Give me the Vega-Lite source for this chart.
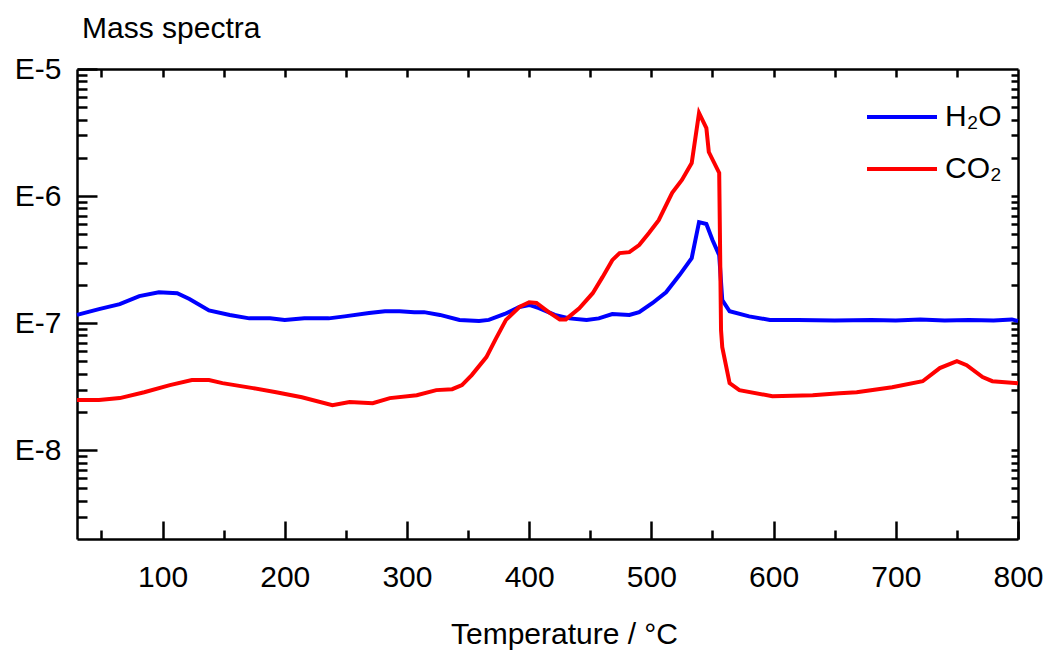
{
  "$schema": "https://vega.github.io/schema/vega-lite/v6.json",
  "width": 941,
  "height": 470,
  "autosize": "none",
  "padding": {"left": 77, "top": 69, "right": 30, "bottom": 112},
  "background": "white",
  "title": {"text": "Mass spectra", "anchor": "start", "frame": "group", "fontSize": 30, "fontWeight": "normal", "font": "Liberation Sans", "color": "black", "offset": 10, "dx": 5},
  "config": {"view": {"stroke": null}, "font": "Liberation Sans", "axis": {"grid": false, "domainColor": "black", "tickColor": "black", "labelColor": "black", "titleColor": "black"}},
  "data": {"values": [
    {"s": "H₂O", "T": 30, "v": 1.16e-7},
    {"s": "H₂O", "T": 48, "v": 1.29e-7},
    {"s": "H₂O", "T": 65, "v": 1.41e-7},
    {"s": "H₂O", "T": 81, "v": 1.63e-7},
    {"s": "H₂O", "T": 97, "v": 1.75e-7},
    {"s": "H₂O", "T": 112, "v": 1.72e-7},
    {"s": "H₂O", "T": 122, "v": 1.55e-7},
    {"s": "H₂O", "T": 138, "v": 1.26e-7},
    {"s": "H₂O", "T": 155, "v": 1.16e-7},
    {"s": "H₂O", "T": 171, "v": 1.09e-7},
    {"s": "H₂O", "T": 188, "v": 1.09e-7},
    {"s": "H₂O", "T": 200, "v": 1.06e-7},
    {"s": "H₂O", "T": 216, "v": 1.09e-7},
    {"s": "H₂O", "T": 236, "v": 1.09e-7},
    {"s": "H₂O", "T": 249, "v": 1.13e-7},
    {"s": "H₂O", "T": 269, "v": 1.20e-7},
    {"s": "H₂O", "T": 282, "v": 1.24e-7},
    {"s": "H₂O", "T": 294, "v": 1.24e-7},
    {"s": "H₂O", "T": 306, "v": 1.22e-7},
    {"s": "H₂O", "T": 314, "v": 1.22e-7},
    {"s": "H₂O", "T": 327, "v": 1.16e-7},
    {"s": "H₂O", "T": 343, "v": 1.06e-7},
    {"s": "H₂O", "T": 359, "v": 1.04e-7},
    {"s": "H₂O", "T": 367, "v": 1.06e-7},
    {"s": "H₂O", "T": 380, "v": 1.18e-7},
    {"s": "H₂O", "T": 392, "v": 1.34e-7},
    {"s": "H₂O", "T": 400, "v": 1.39e-7},
    {"s": "H₂O", "T": 408, "v": 1.31e-7},
    {"s": "H₂O", "T": 421, "v": 1.16e-7},
    {"s": "H₂O", "T": 433, "v": 1.09e-7},
    {"s": "H₂O", "T": 447, "v": 1.06e-7},
    {"s": "H₂O", "T": 457, "v": 1.09e-7},
    {"s": "H₂O", "T": 468, "v": 1.18e-7},
    {"s": "H₂O", "T": 482, "v": 1.16e-7},
    {"s": "H₂O", "T": 490, "v": 1.22e-7},
    {"s": "H₂O", "T": 501, "v": 1.44e-7},
    {"s": "H₂O", "T": 512, "v": 1.75e-7},
    {"s": "H₂O", "T": 523, "v": 2.39e-7},
    {"s": "H₂O", "T": 533, "v": 3.25e-7},
    {"s": "H₂O", "T": 539, "v": 6.24e-7},
    {"s": "H₂O", "T": 545, "v": 6.03e-7},
    {"s": "H₂O", "T": 550, "v": 4.51e-7},
    {"s": "H₂O", "T": 555.5, "v": 3.43e-7},
    {"s": "H₂O", "T": 558, "v": 1.52e-7},
    {"s": "H₂O", "T": 564, "v": 1.24e-7},
    {"s": "H₂O", "T": 580, "v": 1.13e-7},
    {"s": "H₂O", "T": 597, "v": 1.06e-7},
    {"s": "H₂O", "T": 620, "v": 1.06e-7},
    {"s": "H₂O", "T": 650, "v": 1.05e-7},
    {"s": "H₂O", "T": 680, "v": 1.06e-7},
    {"s": "H₂O", "T": 700, "v": 1.05e-7},
    {"s": "H₂O", "T": 720, "v": 1.07e-7},
    {"s": "H₂O", "T": 740, "v": 1.05e-7},
    {"s": "H₂O", "T": 760, "v": 1.06e-7},
    {"s": "H₂O", "T": 780, "v": 1.05e-7},
    {"s": "H₂O", "T": 795, "v": 1.07e-7},
    {"s": "H₂O", "T": 800, "v": 1.04e-7},
    {"s": "CO₂", "T": 30, "v": 2.48e-8},
    {"s": "CO₂", "T": 48, "v": 2.48e-8},
    {"s": "CO₂", "T": 65, "v": 2.57e-8},
    {"s": "CO₂", "T": 85, "v": 2.86e-8},
    {"s": "CO₂", "T": 106, "v": 3.25e-8},
    {"s": "CO₂", "T": 124, "v": 3.56e-8},
    {"s": "CO₂", "T": 138, "v": 3.56e-8},
    {"s": "CO₂", "T": 149, "v": 3.37e-8},
    {"s": "CO₂", "T": 174, "v": 3.08e-8},
    {"s": "CO₂", "T": 193, "v": 2.86e-8},
    {"s": "CO₂", "T": 214, "v": 2.61e-8},
    {"s": "CO₂", "T": 239, "v": 2.26e-8},
    {"s": "CO₂", "T": 253, "v": 2.39e-8},
    {"s": "CO₂", "T": 272, "v": 2.34e-8},
    {"s": "CO₂", "T": 286, "v": 2.57e-8},
    {"s": "CO₂", "T": 308, "v": 2.71e-8},
    {"s": "CO₂", "T": 324, "v": 2.97e-8},
    {"s": "CO₂", "T": 337, "v": 3.02e-8},
    {"s": "CO₂", "T": 345, "v": 3.25e-8},
    {"s": "CO₂", "T": 353, "v": 3.90e-8},
    {"s": "CO₂", "T": 365, "v": 5.40e-8},
    {"s": "CO₂", "T": 373, "v": 7.62e-8},
    {"s": "CO₂", "T": 381, "v": 1.06e-7},
    {"s": "CO₂", "T": 392, "v": 1.34e-7},
    {"s": "CO₂", "T": 400, "v": 1.46e-7},
    {"s": "CO₂", "T": 406, "v": 1.44e-7},
    {"s": "CO₂", "T": 416, "v": 1.22e-7},
    {"s": "CO₂", "T": 425, "v": 1.07e-7},
    {"s": "CO₂", "T": 430, "v": 1.07e-7},
    {"s": "CO₂", "T": 441, "v": 1.31e-7},
    {"s": "CO₂", "T": 452, "v": 1.72e-7},
    {"s": "CO₂", "T": 460, "v": 2.30e-7},
    {"s": "CO₂", "T": 468, "v": 3.13e-7},
    {"s": "CO₂", "T": 474, "v": 3.56e-7},
    {"s": "CO₂", "T": 482, "v": 3.62e-7},
    {"s": "CO₂", "T": 490, "v": 4.11e-7},
    {"s": "CO₂", "T": 498, "v": 5.12e-7},
    {"s": "CO₂", "T": 506, "v": 6.47e-7},
    {"s": "CO₂", "T": 517, "v": 1.06e-6},
    {"s": "CO₂", "T": 525, "v": 1.34e-6},
    {"s": "CO₂", "T": 533, "v": 1.82e-6},
    {"s": "CO₂", "T": 539, "v": 4.51e-6},
    {"s": "CO₂", "T": 545, "v": 3.43e-6},
    {"s": "CO₂", "T": 547, "v": 2.22e-6},
    {"s": "CO₂", "T": 555.5, "v": 1.52e-6},
    {"s": "CO₂", "T": 557, "v": 8.8e-8},
    {"s": "CO₂", "T": 558, "v": 6.47e-8},
    {"s": "CO₂", "T": 564, "v": 3.37e-8},
    {"s": "CO₂", "T": 572, "v": 2.97e-8},
    {"s": "CO₂", "T": 599, "v": 2.66e-8},
    {"s": "CO₂", "T": 632, "v": 2.71e-8},
    {"s": "CO₂", "T": 654, "v": 2.81e-8},
    {"s": "CO₂", "T": 668, "v": 2.86e-8},
    {"s": "CO₂", "T": 697, "v": 3.13e-8},
    {"s": "CO₂", "T": 722, "v": 3.49e-8},
    {"s": "CO₂", "T": 736, "v": 4.43e-8},
    {"s": "CO₂", "T": 750, "v": 5.02e-8},
    {"s": "CO₂", "T": 758, "v": 4.67e-8},
    {"s": "CO₂", "T": 771, "v": 3.76e-8},
    {"s": "CO₂", "T": 779, "v": 3.49e-8},
    {"s": "CO₂", "T": 800, "v": 3.37e-8}
  ]},
  "resolve": {"axis": {"x": "independent", "y": "independent"}},
  "layer": [
    {
      "mark": {"type": "line", "strokeWidth": 4},
      "encoding": {
        "x": {"field": "T", "type": "quantitative", "scale": {"domain": [30, 800], "nice": false, "zero": false},
          "axis": {"orient": "bottom", "values": [100, 200, 300, 400, 500, 600, 700, 800], "ticks": false, "labelFontSize": 30, "labelFont": "Liberation Sans", "labelPadding": 23, "labelFlush": false, "domainWidth": 2.5, "title": "Temperature / °C", "titleFontSize": 30, "titleFont": "Liberation Sans", "titleFontWeight": "normal", "titleX": 487, "titleY": 80}},
        "y": {"field": "v", "type": "quantitative", "scale": {"type": "log", "domain": [2e-9, 1e-5], "nice": false},
          "axis": {"orient": "left", "values": [1e-5, 1e-6, 1e-7, 1e-8], "labelExpr": "'E' + round(log(datum.value)/LN10)", "ticks": false, "labelFontSize": 30, "labelFont": "Liberation Sans", "labelPadding": 16, "labelFlush": false, "domainWidth": 2.5, "title": null}},
        "color": {"field": "s", "type": "nominal", "scale": {"domain": ["H₂O", "CO₂"], "range": ["#0000ff", "#ff0000"]},
          "legend": {"orient": "none", "legendX": 788, "legendY": 11, "title": null, "symbolType": "stroke", "symbolSize": 4900, "symbolStrokeWidth": 4, "labelFontSize": 30, "labelFont": "Liberation Sans", "labelColor": "black", "rowPadding": -8, "labelOffset": 6, "padding": 0}}
      }
    },
    {
      "mark": {"type": "point", "opacity": 0},
      "encoding": {
        "x": {"field": "T", "type": "quantitative", "axis": {"orient": "bottom", "values": [100, 200, 300, 400, 500, 600, 700, 800], "labels": false, "domain": false, "tickSize": -18, "tickWidth": 2.5, "title": null}},
        "y": {"field": "v", "type": "quantitative", "axis": {"orient": "left", "values": [1e-5, 1e-6, 1e-7, 1e-8], "labels": false, "domain": false, "tickSize": -20, "tickWidth": 2.5, "title": null}}
      }
    },
    {
      "mark": {"type": "point", "opacity": 0},
      "encoding": {
        "x": {"field": "T", "type": "quantitative", "axis": {"orient": "bottom", "values": [50, 150, 250, 350, 450, 550, 650, 750], "labels": false, "domain": false, "tickSize": -9, "tickWidth": 2.5, "title": null}},
        "y": {"field": "v", "type": "quantitative", "axis": {"orient": "left", "values": [3e-9, 4e-9, 5e-9, 6e-9, 7e-9, 8e-9, 9e-9, 2e-8, 3e-8, 4e-8, 5e-8, 6e-8, 7e-8, 8e-8, 9e-8, 2e-7, 3e-7, 4e-7, 5e-7, 6e-7, 7e-7, 8e-7, 9e-7, 2e-6, 3e-6, 4e-6, 5e-6, 6e-6, 7e-6, 8e-6, 9e-6], "labels": false, "domain": false, "tickSize": -10, "tickWidth": 2.5, "title": null}}
      }
    },
    {
      "mark": {"type": "point", "opacity": 0},
      "encoding": {
        "x": {"field": "T", "type": "quantitative", "axis": {"orient": "top", "values": [50, 100, 150, 200, 250, 300, 350, 400, 450, 500, 550, 600, 650, 700, 750], "labels": false, "domain": true, "domainWidth": 2.5, "tickSize": -8, "tickWidth": 2.5, "title": null}},
        "y": {"field": "v", "type": "quantitative", "axis": {"orient": "right", "values": [3e-9, 4e-9, 5e-9, 6e-9, 7e-9, 8e-9, 9e-9, 1e-8, 2e-8, 3e-8, 4e-8, 5e-8, 6e-8, 7e-8, 8e-8, 9e-8, 1e-7, 2e-7, 3e-7, 4e-7, 5e-7, 6e-7, 7e-7, 8e-7, 9e-7, 1e-6, 2e-6, 3e-6, 4e-6, 5e-6, 6e-6, 7e-6, 8e-6, 9e-6], "labels": false, "domain": true, "domainWidth": 2.5, "tickSize": -7, "tickWidth": 2.5, "title": null}}
      }
    }
  ]
}
